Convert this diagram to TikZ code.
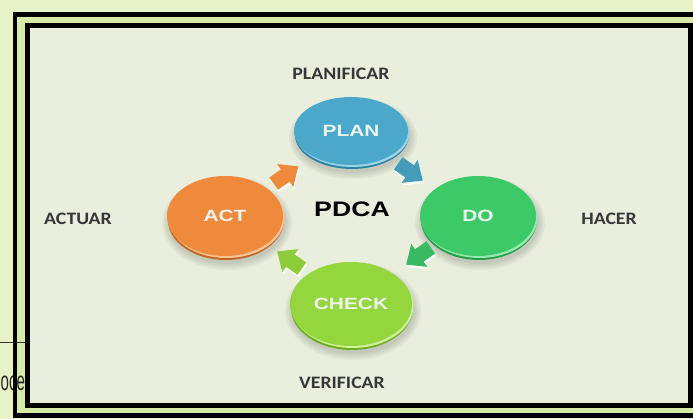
\documentclass[tikz,border=0pt]{standalone}
\usepackage{fontspec}
\usepackage{graphicx}
\usetikzlibrary{shapes.geometric,calc}
\newfontfamily\lblfont{Carlito}
\newfontfamily\arialfont{Liberation Sans}
\definecolor{outerbg}{HTML}{E6F3C8}
\definecolor{gapgreen}{HTML}{D6EBA8}
\definecolor{panel}{HTML}{E9EEDD}
\definecolor{lblgray}{HTML}{363838}
\definecolor{plantop}{HTML}{4AA9CA}
\definecolor{planrim}{HTML}{2E84A4}
\definecolor{planhl}{HTML}{9AD4E8}
\definecolor{acttop}{HTML}{EF8A3C}
\definecolor{actrim}{HTML}{C66520}
\definecolor{acthl}{HTML}{F8C496}
\definecolor{dotop}{HTML}{3EC969}
\definecolor{dorim}{HTML}{24A04B}
\definecolor{dohl}{HTML}{98E8B0}
\definecolor{chktop}{HTML}{93D63D}
\definecolor{chkrim}{HTML}{6DAE20}
\definecolor{chkhl}{HTML}{CDF09A}
\definecolor{discwhite}{HTML}{EEF3EC}
\tikzset{
  lbl/.style={text=lblgray, inner sep=0pt, font=\lblfont\bfseries\fontsize{17.5}{20}\selectfont},
  disc/.style={shape=ellipse, inner sep=0pt, text=discwhite,
    font=\arialfont\bfseries\fontsize{16.3}{18}\selectfont},
  framebar/.style={draw=black, line width=4.8pt}
}
\newcommand\mydisc[8]{%
  \begin{scope}[shift={#2}]
    \foreach \s in {7,5,3,1}{\fill[black,opacity=0.04] (2,7) ellipse [x radius={#3/2+\s}, y radius={#4/2+\s}];}
    \fill[#6] (1,4) ellipse [x radius={#3/2}, y radius={#4/2}];
    \fill[#7] (1.5,2) ellipse [x radius={#3/2}, y radius={#4/2}];
  \end{scope}
  \node[disc, fill=#5, minimum width=#3, minimum height=#4] (#1) at #2 {\scalebox{1.28}[1]{#8}};
}
\newcommand\arrshape{(-15,-7.5) -- (-1,-7.5) -- (-1,-14) -- (15,0) -- (-1,14) -- (-1,7.5) -- (-15,7.5) -- cycle}
\newcommand\blockarr[3]{%
  \fill[white, opacity=0.85, shift={#1}, shift={(1,2.5)}, rotate=#2] \arrshape;
  \fill[#3, shift={#1}, rotate=#2] \arrshape;
}
\begin{document}
\begin{tikzpicture}[x=1pt,y=-1pt]
\useasboundingbox (0,0) rectangle (693,419);
\clip (0,0) rectangle (693,419);
% background and frames
\fill[outerbg] (0,0) rectangle (693,419);
\fill[gapgreen] (15,14.5) rectangle (700,415.5);
\draw[line width=0.8pt, black!80] (0,342) -- (26,342);
\node[anchor=base west, inner sep=0pt, text=black!85,
  font=\arialfont\fontsize{27}{29}\selectfont] (frag) at (0.5,390) {\scalebox{0.56}[1]{oce}};
\draw[framebar] (15,14.5) rectangle (700,415.5);
\fill[panel] (27.5,25.5) rectangle (690.5,405.5);
\draw[framebar] (27.5,25.5) rectangle (690.5,405.5);
% outer labels
\node[lbl] (planificar) at (341,74) {\scalebox{1.13}[1]{PLANIFICAR}};
\node[lbl] (actuar) at (78,219) {\scalebox{1.13}[1]{ACTUAR}};
\node[lbl] (hacer) at (609,219) {\scalebox{1.13}[1]{HACER}};
\node[lbl] (verificar) at (342,383) {\scalebox{1.13}[1]{VERIFICAR}};
% discs
\mydisc{plan}{(351,131)}{114}{68}{plantop}{planrim}{planhl}{PLAN}
\mydisc{act}{(225,216)}{116}{80}{acttop}{actrim}{acthl}{ACT}
\mydisc{do}{(478,216)}{116}{80}{dotop}{dorim}{dohl}{DO}
\mydisc{check}{(351,304)}{122}{84}{chktop}{chkrim}{chkhl}{CHECK}
\node[inner sep=0pt, font=\arialfont\bfseries\fontsize{21}{24}\selectfont] (pdca) at (352,209) {\scalebox{1.27}[1]{PDCA}};
% block arrows between the discs
\coordinate (a1) at ($(act)!0.5!(plan)+(-2,1.5)$);
\coordinate (a2) at ($(plan)!0.5!(do)+(-4,-1.5)$);
\coordinate (a3) at ($(do)!0.5!(check)+(4,-4)$);
\coordinate (a4) at ($(check)!0.5!(act)+(1.5,0)$);
\blockarr{(a1)}{35}{acttop}
\blockarr{(a2)}{-35}{plantop!92!black}
\blockarr{(a3)}{-145}{dotop!92!black}
\blockarr{(a4)}{145}{chktop!95!black}
\end{tikzpicture}
\end{document}
